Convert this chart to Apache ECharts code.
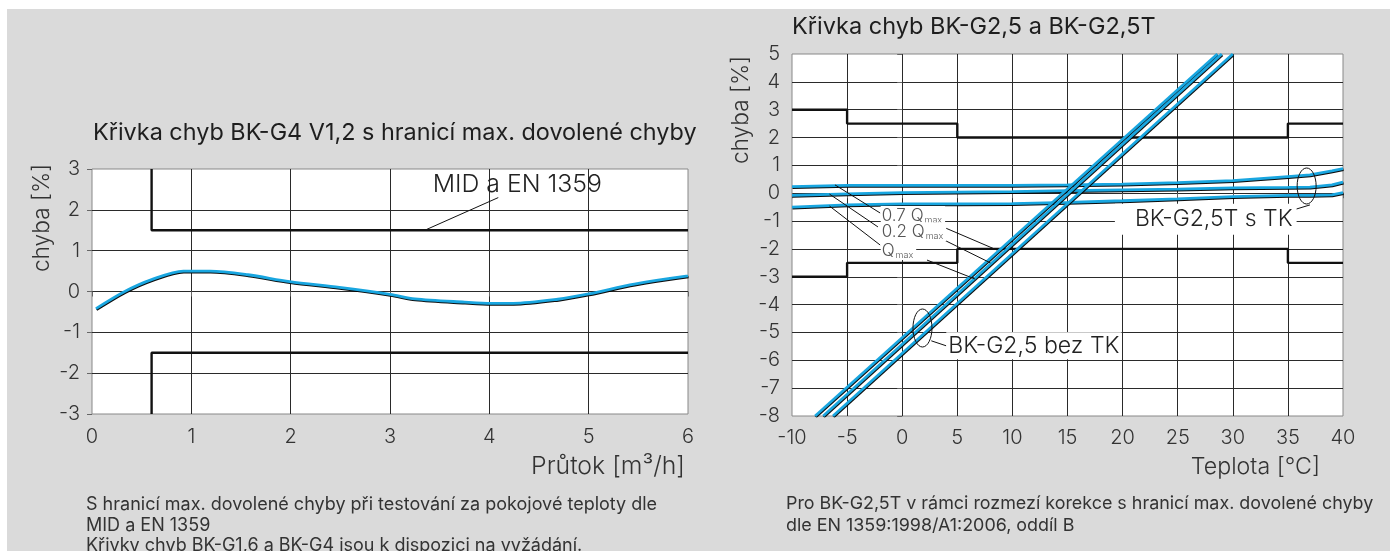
<!DOCTYPE html>
<html><head><meta charset="utf-8">
<script src="https://cdn.jsdelivr.net/npm/echarts@6/dist/echarts.min.js"></script>
<style>html,body{margin:0;padding:0;background:#fff}#c{width:1397px;height:551px}</style>
</head><body><div id="c"></div>
<script>
// ---------- DATA ----------
// Left chart: error curve BK-G4 V1,2 vs. flow
const flowRate = [0.04, 0.33, 0.6, 0.92, 1.19, 1.57, 1.99, 2.49, 3.0, 3.25, 3.75, 4.02, 4.24, 4.69, 5.0, 5.46, 6.0];
const flowError = [-0.42, 0.0, 0.29, 0.5, 0.5, 0.41, 0.24, 0.1, -0.07, -0.18, -0.26, -0.29, -0.29, -0.19, -0.06, 0.18, 0.38];
// MID / EN 1359 max. permissible error limits
const midLimitFlow = [0.6, 0.6, 6];
const midLimitUpper = [3, 1.5, 1.5];
const midLimitLower = [-3, -1.5, -1.5];

// Right chart: temperature error curves
const limitTemp = [-10, -5, 5, 35, 40];
const limitUpper = [3, 2.5, 2, 2.5, 2.5];
const limitLower = [-3, -2.5, -2, -2.5, -2.5];

// BK-G2,5T s TK (with temperature compensation)
const tkTemp = [-10, -5, 0, 5, 10, 15, 20, 25, 30, 35, 37, 39, 40];
const tk07Qmax = [0.24, 0.28, 0.28, 0.28, 0.28, 0.3, 0.33, 0.38, 0.45, 0.6, 0.66, 0.8, 0.88];
const tk02Qmax = [-0.08, -0.02, 0.02, 0.04, 0.06, 0.09, 0.12, 0.15, 0.19, 0.21, 0.22, 0.3, 0.4];
const tkQmax   = [-0.5, -0.42, -0.38, -0.38, -0.37, -0.33, -0.27, -0.2, -0.12, -0.08, -0.08, -0.06, 0.02];

// BK-G2,5 bez TK (without compensation): temperature at error -8 % and +5 %
const bezError = [-8, 5];
const bez07Temp = [-7.9, 28.6];
const bez02Temp = [-7.17, 29.0];
const bezQmaxTemp = [-6.28, 30.0];

// Annotation anchors (data coordinates)
const leaderMid = [[3.35, 1.5], [4.09, 2.3]];
const leadersRight = [
  [[-6.1, 0.3], [-2.0, -0.71]],
  [[-6.6, -0.03], [-2.2, -1.21]],
  [[-6.6, -0.46], [-2.0, -1.86]],
  [[3.7, -1.21], [8.6, -2.04]],
  [[3.4, -1.6], [8.0, -2.5]],
  [[2.25, -2.4], [6.6, -3.08]],
  [[34.0, -0.78], [37.0, -0.42]],
  [[2.64, -5.3], [4.0, -5.48]]
];

// Notes below the charts
const notesLeft = [
  'S hranicí max. dovolené chyby při testování za pokojové teploty dle',
  'MID a EN 1359',
  'Křivky chyb BK-G1,6 a BK-G4 jsou k dispozici na vyžádání.'
];
const notesRight = [
  'Pro BK-G2,5T v rámci rozmezí korekce s hranicí max. dovolené chyby',
  'dle EN 1359:1998/A1:2006, oddíl B'
];

// ---------- CHART ----------
const FONT = 'Inter, Roboto, "Noto Sans", sans-serif';
const CYAN = '#19a6e0';
const chart = echarts.init(document.getElementById('c'), null, {renderer: 'canvas'});

const mctx = document.createElement('canvas').getContext('2d');
function fit(text, weight, target) {
  mctx.font = `${weight} 100px ${FONT}`;
  return Math.round(100 * target / mctx.measureText(text).width * 10) / 10;
}

function zip(xs, ys) { return xs.map((x, i) => [x, ys[i]]); }

function valueAxis(gridIndex, min, max, interval, margin) {
  return {
    type: 'value', gridIndex, min, max, interval,
    axisLine: {show: false},
    axisTick: {show: true, inside: false, length: 5, lineStyle: {color: '#666'}},
    splitLine: {show: true, showMinLine: false, showMaxLine: false, lineStyle: {color: '#2a2a2a', width: 1}},
    axisLabel: {margin, color: '#333', fontFamily: FONT, fontSize: 20, fontWeight: 300, lineHeight: 20}
  };
}

const blueStyle = {color: CYAN, width: 2.8, shadowColor: 'rgba(0,0,0,0.95)', shadowOffsetX: 0.5, shadowOffsetY: 1.0, shadowBlur: 0};
const blackStyle = {color: '#111', width: 2.4};
function lineSeries(idx, data, style, extra) {
  return Object.assign({
    type: 'line', xAxisIndex: idx, yAxisIndex: idx, data, showSymbol: false, symbol: 'none',
    lineStyle: style, silent: true, animation: false, clip: true
  }, extra || {});
}

const series = [
  lineSeries(0, zip(midLimitFlow, midLimitUpper), blackStyle, {z: 3}),
  lineSeries(0, zip(midLimitFlow, midLimitLower), blackStyle, {z: 3}),
  lineSeries(0, zip(flowRate, flowError), blueStyle, {z: 4, smooth: 0.3}),
  lineSeries(0, leaderMid, {color: '#111', width: 1}, {z: 5}),
  lineSeries(1, zip(limitTemp, limitUpper), blackStyle, {z: 3, step: 'end'}),
  lineSeries(1, zip(limitTemp, limitLower), blackStyle, {z: 3, step: 'end'}),
  lineSeries(1, zip(tkTemp, tk07Qmax), blueStyle, {z: 4}),
  lineSeries(1, zip(tkTemp, tk02Qmax), blueStyle, {z: 4}),
  lineSeries(1, zip(tkTemp, tkQmax), blueStyle, {z: 4}),
  lineSeries(1, zip(bez07Temp, bezError), blueStyle, {z: 4}),
  lineSeries(1, zip(bez02Temp, bezError), blueStyle, {z: 4}),
  lineSeries(1, zip(bezQmaxTemp, bezError), blueStyle, {z: 4})
];
leadersRight.forEach(l => series.push(lineSeries(1, l, {color: '#111', width: 1}, {z: 5})));

chart.setOption({
  animation: false,
  backgroundColor: '#ffffff',
  grid: [
    {left: 92, top: 169, width: 596, height: 245, show: true, backgroundColor: '#fff', borderColor: '#888', borderWidth: 1, containLabel: false},
    {left: 792, top: 54, width: 551, height: 362, show: true, backgroundColor: '#fff', borderColor: '#888', borderWidth: 1, containLabel: false}
  ],
  xAxis: [valueAxis(0, 0, 6, 1, 13), valueAxis(1, -10, 40, 5, 12)],
  yAxis: [valueAxis(0, -3, 3, 1, 12), valueAxis(1, -8, 5, 1, 12)],
  series
});

function px(gi, p) { return chart.convertToPixel({gridIndex: gi}, p); }
function txtSized(x, y, text, weight, size, opts) {
  return Object.assign({
    type: 'text', x, y, z: 100,
    style: Object.assign({text, fill: '#222', font: `${weight} ${size}px ${FONT}`, align: 'left', verticalAlign: 'middle'}, (opts && opts.style) || {})
  }, (opts && opts.el) || {});
}
function txt(x, y, text, weight, width, opts) {
  return txtSized(x, y, text, weight, fit(text, weight, width), opts);
}

const qRich = {
  a: {fontSize: 17, fontFamily: FONT, fontWeight: 300, fill: '#555', lineHeight: 19, verticalAlign: 'middle'},
  s: {fontSize: 9, fontFamily: FONT, fontWeight: 300, fill: '#555', lineHeight: 19, verticalAlign: 'bottom', padding: [6, 0, 0, 1]}
};
function qLabel(p, text) {
  return {type: 'text', x: p[0], y: p[1], z: 110,
    style: {text, rich: qRich, align: 'left', verticalAlign: 'middle', backgroundColor: '#fff', padding: [0, 3, 0, 1]}};
}

const pMid = px(0, [3.43, 2.63]);
const pTK = px(1, [19.3, -0.93]);
const pBez = px(1, [4.0, -5.48]);
const p07 = px(1, [-1.95, -0.8]);
const p02 = px(1, [-1.95, -1.38]);
const pQ = px(1, [-1.95, -2.06]);
const eTK = px(1, [36.7, 0.26]);
const eBez = px(1, [1.84, -4.84]);

const note = {style: {fill: '#333'}};
const noteSizeL = fit(notesLeft[0], 400, 570);
const noteSizeR = fit(notesRight[0], 400, 587);
const graphic = [
  {type: 'rect', shape: {x: 7, y: 9, width: 1383, height: 542}, style: {fill: '#dadada'}, z: -100, silent: true},
  txt(93, 133, 'Křivka chyb BK-G4 V1,2 s hranicí max. dovolené chyby', 400, 604, {style: {fill: '#1e1e1e'}}),
  txt(792, 27, 'Křivka chyb BK-G2,5 a BK-G2,5T', 400, 363, {style: {fill: '#1e1e1e'}}),
  txt(42, 218, 'chyba [%]', 300, 108, {style: {align: 'center', fill: '#333'}, el: {rotation: Math.PI / 2}}),
  txt(741, 110, 'chyba [%]', 300, 108, {style: {align: 'center', fill: '#333'}, el: {rotation: Math.PI / 2}}),
  txt(685, 467, 'Průtok [m³/h]', 300, 154, {style: {align: 'right', fill: '#333'}}),
  txt(1320, 467, 'Teplota [°C]', 300, 129, {style: {align: 'right', fill: '#333'}}),
  ...notesLeft.map((t, i) => txtSized(86, 505 + i * 20.5, t, 400, noteSizeL, note)),
  ...notesRight.map((t, i) => txtSized(786, 504 + i * 22, t, 400, noteSizeR, note)),
  txt(pMid[0], pMid[1], 'MID a EN 1359', 300, 169, {style: {fill: '#222'}}),
  txt(pTK[0], pTK[1], 'BK-G2,5T s TK', 300, 158, {style: {fill: '#222', backgroundColor: '#fff', padding: [4, 4, 4, 20]}}),
  txt(pBez[0], pBez[1], 'BK-G2,5 bez TK', 300, 171, {style: {fill: '#222', backgroundColor: '#fff', padding: [2, 2, 2, 2]}}),
  qLabel(p07, '{a|0.7 Q}{s|max}'),
  qLabel(p02, '{a|0.2 Q}{s|max}'),
  qLabel(pQ, '{a|Q}{s|max}'),
  {type: 'ellipse', z: 120, shape: {cx: eTK[0], cy: eTK[1], rx: 9.5, ry: 18}, style: {fill: null, stroke: '#111', lineWidth: 1}},
  {type: 'ellipse', z: 120, shape: {cx: eBez[0], cy: eBez[1], rx: 9.5, ry: 19}, style: {fill: null, stroke: '#111', lineWidth: 1}}
];
chart.setOption({graphic});
</script></body></html>
